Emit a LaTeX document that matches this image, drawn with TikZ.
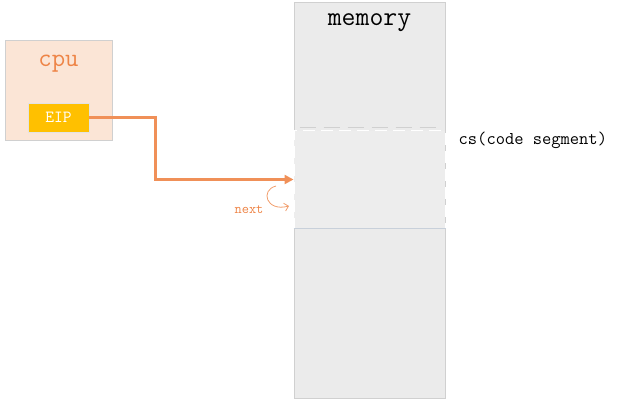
\documentclass[tikz,border=0pt]{standalone}
\usepackage{tikz}
\usetikzlibrary{arrows.meta,positioning}
\usepackage{xcolor}
\definecolor{cpufill}{RGB}{251,229,214}
\definecolor{cpuorange}{RGB}{238,132,70}
\definecolor{eipfill}{RGB}{255,192,0}
\definecolor{memfill}{RGB}{235,235,235}
\definecolor{boxline}{RGB}{208,208,208}
\definecolor{segline}{RGB}{200,208,218}
\newcommand{\tsz}[1]{\fontsize{#1}{#1}\selectfont\ttfamily}

\begin{document}
\begin{tikzpicture}[
  x=1pt, y=-1pt,
  box/.style={draw=boxline, line width=0.8pt, inner sep=0pt},
  cpubox/.style={box, fill=cpufill, minimum width=107pt, minimum height=100pt},
  eipbox/.style={box, fill=eipfill, draw=boxline!60, minimum width=61pt, minimum height=29pt, text=white, font=\tsz{17}},
  membox/.style={box, fill=memfill, minimum width=151pt, minimum height=396pt},
  segbox/.style={draw=white, dashed, dash pattern=on 12pt off 6pt, line width=1pt, fill=memfill!92!white, minimum width=151pt, minimum height=97pt, inner sep=0pt},
  lab/.style={inner sep=0pt}
]
\useasboundingbox (0,0) rectangle (620,406);
\node[cpubox] (cpu) at (58.5,90) {};
\node[lab, below=15pt of cpu.north, text=cpuorange, font=\tsz{26}] (cputxt) {cpu};
\node[eipbox, above=8pt of cpu.south] (eip) {EIP};
\node[membox] (mem) at (369.5,200) {};
\node[lab, below=12pt of mem.north, font=\tsz{27}] (memtxt) {memory};
\node[segbox] (seg) at (369.5,179.5) {};
\draw[boxline, line width=1pt, dash pattern=on 16pt off 8pt] ([xshift=6pt,yshift=2.5pt]seg.north west) -- ([xshift=-8pt,yshift=2.5pt]seg.north east);
\draw[segline, line width=1.2pt] (seg.south west) -- (seg.south east);
\node[lab, anchor=west, font=\tsz{18}] (cstxt) at ([xshift=13pt,yshift=-10pt]seg.north east) {cs(code segment)};
% next instruction
\coordinate (n1) at (276,186);
\coordinate (n2) at (289,206);
\draw[cpuorange!80, line width=0.8pt, -{Straight Barb[length=4pt]}] (n1) .. controls (260,190) and (266,212) .. (n2);
\node[lab, text=cpuorange, font=\tsz{14}] (nexttxt) at (249,210) {next};
% eip -> code segment
\coordinate (bend) at ([xshift=66pt]eip.east);
\draw[cpuorange!90, line width=2.5pt, -{Triangle[length=9pt,width=9pt]}] (eip.east) -- (bend) .. controls (bend) .. (bend |- seg.west) -- (seg.west);
\end{tikzpicture}
\end{document}
